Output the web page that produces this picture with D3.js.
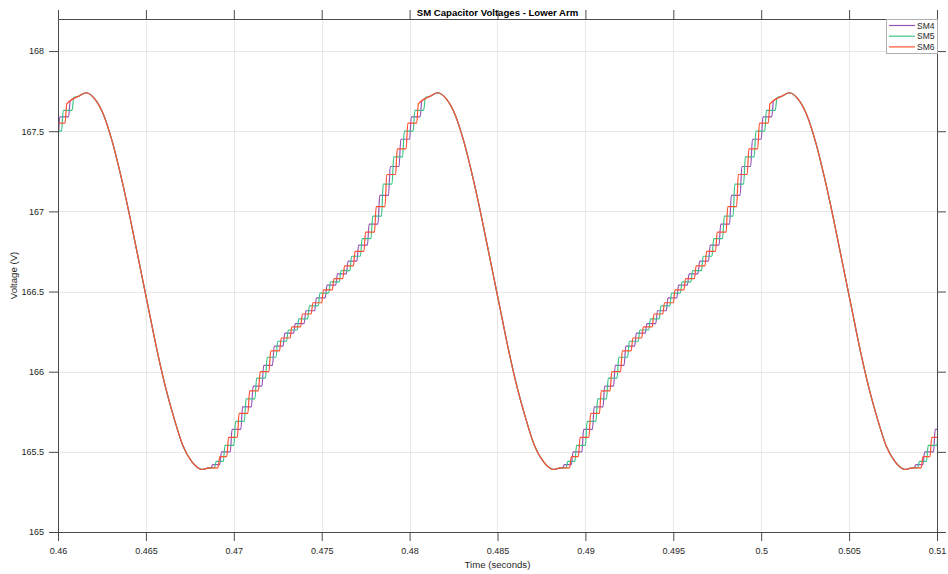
<!DOCTYPE html>
<html>
<head>
<meta charset="utf-8">
<script src="https://cdn.jsdelivr.net/npm/d3@7"></script>
<style>
  body { margin: 0; background: #fff; }
  svg { display: block; }
  text { font-family: "Liberation Sans", Arial, Helvetica, sans-serif; }
</style>
</head>
<body>
<svg id="chart" width="948" height="574"></svg>
<script>
// ---- data ----------------------------------------------------------------
const seriesNames  = ["SM4", "SM5", "SM6"];
const seriesColors = ["#9556b8", "#3cc487", "#ff5232"];

const xTickValues = [0.46, 0.465, 0.47, 0.475, 0.48, 0.485, 0.49, 0.495, 0.5, 0.505, 0.51];
const xTickLabels = ["0.46", "0.465", "0.47", "0.475", "0.48", "0.485", "0.49", "0.495", "0.5", "0.505", "0.51"];
const yTickValues = [165, 165.5, 166, 166.5, 167, 167.5, 168];
const yTickLabels = ["165", "165.5", "166", "166.5", "167", "167.5", "168"];

// trough instants of the capacitor ripple (s)
const troughTimes = [0.4482, 0.4682, 0.4882, 0.5082];

// smooth part just after a trough: [ms after trough, V]
const riseStart = [[0, 165.39], [0.4, 165.40]];
// rounded top of the charging interval: [ms after trough, V]
const riseEnd = [[13.0, 167.72], [13.4, 167.74]];
// discharge after the peak: [ms after peak, V]
const fallProfile = [
  [0.5, 167.70], [1.0, 167.60], [1.5, 167.43], [2.0, 167.21], [2.5, 166.96],
  [3.0, 166.69], [3.5, 166.42], [4.0, 166.15], [4.5, 165.91], [5.0, 165.71],
  [5.5, 165.54], [6.0, 165.44], [6.6, 165.39]
];

// charging staircases (insertion instants): [ms after trough, V level reached]
const sm4Steps = [
  [0.5, 165.42], [1.0, 165.50], [1.6, 165.64], [2.2, 165.78], [2.8, 165.91],
  [3.4, 166.04], [4.0, 166.16], [4.6, 166.24], [5.2, 166.30], [5.8, 166.38],
  [6.4, 166.46], [7.0, 166.54], [7.6, 166.61], [8.2, 166.69], [8.8, 166.79],
  [9.4, 166.92], [10.0, 167.10], [10.6, 167.28], [11.2, 167.45], [11.8, 167.59],
  [12.4, 167.69]
];
const sm5Steps = [
  [0.7, 165.44], [1.2, 165.54], [1.8, 165.69], [2.4, 165.83], [3.0, 165.96],
  [3.6, 166.09], [4.2, 166.19], [4.8, 166.26], [5.4, 166.33], [6.0, 166.41],
  [6.6, 166.49], [7.2, 166.56], [7.8, 166.63], [8.4, 166.72], [9.0, 166.83],
  [9.6, 166.97], [10.2, 167.17], [10.8, 167.34], [11.4, 167.50], [12.0, 167.63],
  [12.6, 167.71]
];
const sm6Steps = [
  [0.9, 165.47], [1.4, 165.59], [2.0, 165.74], [2.6, 165.88], [3.2, 166.00],
  [3.8, 166.13], [4.4, 166.21], [5.0, 166.28], [5.6, 166.36], [6.2, 166.43],
  [6.8, 166.51], [7.4, 166.58], [8.0, 166.66], [8.6, 166.75], [9.2, 166.87],
  [9.8, 167.03], [10.4, 167.23], [11.0, 167.39], [11.6, 167.55], [12.2, 167.67]
];
const seriesSteps = [sm4Steps, sm5Steps, sm6Steps];

// ---- layout --------------------------------------------------------------
const plot = { left: 58, right: 937, top: 19, bottom: 532 };
const axisColor = "#4a4a4a";
const gridColor = "#e8e8e8";
const rampMs = 0.1;        // duration of a charging edge
const peakOffsetMs = 13.4; // peak follows trough by this much

const svg = d3.select("#chart");

const x = d3.scaleLinear().domain([0.46, 0.51]).range([plot.left, plot.right]);
const y = d3.scaleLinear().domain([165, 168.2]).range([plot.bottom, plot.top]);

// grid
const grid = svg.append("g");
grid.selectAll("line.gx").data(xTickValues).join("line")
  .attr("x1", d => Math.round(x(d)) + 0.5).attr("x2", d => Math.round(x(d)) + 0.5)
  .attr("y1", plot.top).attr("y2", plot.bottom)
  .attr("stroke", gridColor).attr("stroke-width", 1);
grid.selectAll("line.gy").data(yTickValues).join("line")
  .attr("y1", d => Math.round(y(d)) + 0.5).attr("y2", d => Math.round(y(d)) + 0.5)
  .attr("x1", plot.left).attr("x2", plot.right)
  .attr("stroke", gridColor).attr("stroke-width", 1);

// series paths: staircase while charging, smooth discharge after the peak
function buildPoints(steps) {
  const pts = [];
  troughTimes.forEach(T => {
    riseStart.forEach(([ms, v]) => pts.push([T + ms / 1000, v]));
    let prev = riseStart[riseStart.length - 1][1];
    steps.forEach(([ms, v]) => {
      pts.push([T + ms / 1000, prev]);
      pts.push([T + (ms + rampMs) / 1000, v]);
      prev = v;
    });
    riseEnd.forEach(([ms, v]) => pts.push([T + ms / 1000, v]));
    const P = T + peakOffsetMs / 1000;
    fallProfile.slice(0, -1).forEach(([ms, v]) => pts.push([P + ms / 1000, v]));
  });
  return pts;
}

svg.append("defs").append("clipPath").attr("id", "plotClip")
  .append("rect")
  .attr("x", plot.left).attr("y", plot.top)
  .attr("width", plot.right - plot.left).attr("height", plot.bottom - plot.top);

const line = d3.line().x(d => x(d[0])).y(d => y(d[1])).curve(d3.curveMonotoneX);
const lines = svg.append("g").attr("clip-path", "url(#plotClip)");
seriesSteps.forEach((steps, i) => {
  lines.append("path")
    .datum(buildPoints(steps))
    .attr("d", line)
    .attr("fill", "none")
    .attr("stroke", seriesColors[i])
    .attr("stroke-width", 1.2)
    .attr("stroke-linejoin", "round");
});

// axes (box with outward ticks on all sides)
function styleAxis(g) {
  g.selectAll("path.domain").attr("stroke", axisColor);
  g.selectAll(".tick line").attr("stroke", axisColor);
  g.selectAll(".tick text").attr("fill", "#262626").attr("font-size", 9);
}

const xBottom = svg.append("g")
  .attr("transform", `translate(0,${plot.bottom})`)
  .call(d3.axisBottom(x).tickValues(xTickValues)
    .tickFormat((d, i) => xTickLabels[i]).tickSize(9).tickSizeOuter(0).tickPadding(7));
styleAxis(xBottom);

const xTop = svg.append("g")
  .attr("transform", `translate(0,${plot.top})`)
  .call(d3.axisTop(x).tickValues(xTickValues).tickFormat("").tickSize(9).tickSizeOuter(0));
styleAxis(xTop);

const yLeft = svg.append("g")
  .attr("transform", `translate(${plot.left},0)`)
  .call(d3.axisLeft(y).tickValues(yTickValues)
    .tickFormat((d, i) => yTickLabels[i]).tickSize(9).tickSizeOuter(0).tickPadding(5));
styleAxis(yLeft);

const yRight = svg.append("g")
  .attr("transform", `translate(${plot.right},0)`)
  .call(d3.axisRight(y).tickValues(yTickValues).tickFormat("").tickSize(9).tickSizeOuter(0));
styleAxis(yRight);

// title and axis labels
svg.append("text")
  .attr("x", (plot.left + plot.right) / 2).attr("y", 16)
  .attr("text-anchor", "middle").attr("font-size", 9.6).attr("font-weight", "bold")
  .attr("fill", "#000")
  .text("SM Capacitor Voltages - Lower Arm");

svg.append("text")
  .attr("x", (plot.left + plot.right) / 2).attr("y", 568)
  .attr("text-anchor", "middle").attr("font-size", 9.6).attr("fill", "#262626")
  .text("Time (seconds)");

svg.append("text")
  .attr("transform", `translate(17,${(plot.top + plot.bottom) / 2}) rotate(-90)`)
  .attr("text-anchor", "middle").attr("font-size", 9.6).attr("fill", "#262626")
  .text("Voltage (V)");

// legend
const legend = svg.append("g");
const lg = { x: 886, y: 19, w: 51, h: 34 };
legend.append("rect")
  .attr("x", lg.x + 0.5).attr("y", lg.y + 0.5)
  .attr("width", lg.w).attr("height", lg.h)
  .attr("fill", "#fff").attr("stroke", "#b0b0b0").attr("stroke-width", 1);
seriesNames.forEach((name, i) => {
  const yy = lg.y + 6.5 + i * 10.7;
  legend.append("line")
    .attr("x1", lg.x + 3).attr("x2", lg.x + 29)
    .attr("y1", yy).attr("y2", yy)
    .attr("stroke", seriesColors[i]).attr("stroke-width", 1.2);
  legend.append("text")
    .attr("x", lg.x + 31).attr("y", yy + 3)
    .attr("font-size", 8.5).attr("fill", "#262626")
    .text(name);
});
</script>
</body>
</html>
